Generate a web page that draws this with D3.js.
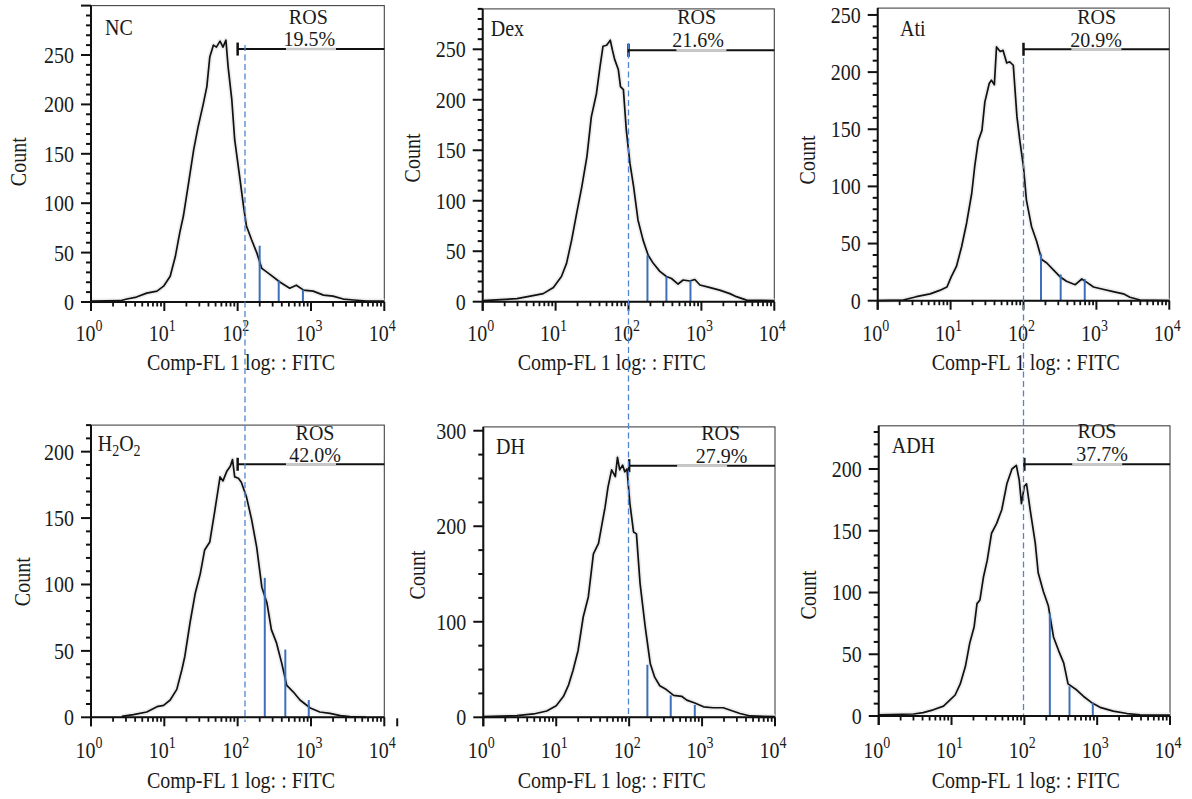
<!DOCTYPE html>
<html><head><meta charset="utf-8">
<script src="https://cdn.jsdelivr.net/npm/d3@7"></script>
<style>
body{margin:0;background:#fff}
svg{display:block}
text{font-family:"Liberation Serif","Times New Roman",serif;fill:#1a1a1a}
</style>
</head><body>
<svg id="chart" width="1192" height="799"></svg>
<script>
// ---------- DATA (log10 of Comp-FL1 intensity, and counts) ----------
const groupNames = ["NC", "Dex", "Ati", "H2O2", "DH", "ADH"];
const rosPercent = ["19.5%", "21.6%", "20.9%", "42.0%", "27.9%", "37.7%"];
const xTickExponents = [0, 1, 2, 3, 4];

const ncLog   = [0,0.4,0.49,0.62,0.76,0.9,0.99,1.08,1.15,1.21,1.26,1.33,1.4,1.46,1.53,1.58,1.62,1.67,1.71,1.76,1.8,1.84,1.87,1.92,1.96,2.02,2.08,2.12,2.19,2.26,2.33,2.44,2.58,2.71,2.8,2.9,3.03,3.17,3.3,3.44,3.58,3.76,4.0];
const ncCount = [1,1.3,3,5,9,11,16,26,46,70,87,120,154,177,200,218,248,260,258,264,258,265,238,205,164,131,97,77,63,50,34,28,20,14,17,12,11,7,6,3,2,1,1];

const dexLog   = [0,0.47,0.69,0.83,0.97,1.08,1.15,1.22,1.29,1.36,1.43,1.49,1.56,1.61,1.65,1.7,1.75,1.78,1.81,1.86,1.89,1.93,1.97,2.02,2.07,2.13,2.2,2.27,2.34,2.43,2.52,2.59,2.68,2.75,2.84,2.91,2.98,3.12,3.25,3.39,3.48,3.62,4.0];
const dexCount = [1,3,6,8,14,25,38,61,88,114,144,183,206,233,253,254,259,249,240,230,213,210,170,137,114,81,61,46,38,30,25,23,17.5,21.5,20.5,22,16.5,14,11.5,8,5,1.6,1];

const atiLog   = [0,0.35,0.53,0.72,0.85,0.95,1.01,1.08,1.15,1.22,1.29,1.33,1.38,1.43,1.47,1.53,1.56,1.6,1.63,1.68,1.72,1.77,1.81,1.86,1.91,1.95,2.0,2.04,2.11,2.18,2.25,2.32,2.41,2.5,2.59,2.71,2.8,2.87,2.96,3.09,3.23,3.37,3.46,3.6,4.0];
const atiCount = [0,0.6,3.5,6,9,12,21,30,47,68,94,117,140,149,174,190,193,189,222,218,219,208,209,206,161,140,117,88,65,52,36,33,27,21,17,14,19,16,12,10,8,6,3,0.6,0];

const h2o2Log   = [0.42,0.58,0.76,0.9,0.99,1.08,1.17,1.24,1.28,1.35,1.42,1.49,1.55,1.62,1.69,1.76,1.8,1.85,1.9,1.93,1.96,2.01,2.05,2.12,2.19,2.26,2.33,2.4,2.46,2.53,2.6,2.67,2.76,2.85,2.99,3.12,3.26,3.4,3.53,3.75];
const h2o2Count = [0.7,2,4,8,9,13,21,36,46,71,93,108,126,132,156,181,178,185,189,194,181,180,177,166,149,128,98,86,66,56,41,24,19,13,7,4,3,1.3,0.5,0];

const dhLog   = [0,0.46,0.69,0.87,1.0,1.1,1.17,1.23,1.3,1.37,1.44,1.51,1.58,1.62,1.67,1.71,1.76,1.81,1.84,1.87,1.91,1.94,1.97,2.01,2.06,2.1,2.15,2.22,2.29,2.35,2.42,2.51,2.61,2.72,2.79,2.9,3.02,3.15,3.29,3.38,3.52,3.66,4.0];
const dhCount = [0.7,1.7,3.5,6.6,12,22,34,49,70,105,126,171,182,199,220,241,259,252,272,259,264,257,260,224,194,192,140,95,56,42,33,29,23,22,18,15,11,10,10,7.7,4,1.4,0.7];

const adhLog   = [0,0.48,0.61,0.75,0.89,0.98,1.05,1.12,1.19,1.25,1.31,1.35,1.39,1.44,1.49,1.55,1.62,1.69,1.76,1.83,1.89,1.93,1.96,2.0,2.03,2.08,2.15,2.19,2.26,2.33,2.4,2.47,2.54,2.6,2.72,2.81,2.92,3.04,3.22,3.41,3.59,4.0];
const adhCount = [1,1.6,2.7,5,8,13,17,26,40,59,72,91,94,113,126,148,156,167,188,200,203,191,172,186,188,167,140,116,101,89,64,53,43,26,21,16,11,7,4,2,1,0.8];

// blue marker lines (log10 position, count height)
const blueLog   = [[2.30,2.56,2.89],[2.26,2.52,2.85],[2.24,2.51,2.84],[2.37,2.65,2.97],[2.25,2.57,2.90],[2.35,2.62,2.94]];
const blueCount = [[57,21.6,12.5],[46,25,21],[41,23,19],[105,51,13],[55,23,13],[83,24,11]];

// ROS gate: start (log10) and height (count)
const gateStartLog = [2.0, 2.0, 2.0, 2.0, 2.0, 2.0];
const gateCount    = [256, 249, 220, 190.5, 263.4, 203.8];

// y axes
const yMax    = [300, 290, 256, 220, 304, 235];
const yMajor  = [50, 50, 50, 50, 100, 50];
const yMinor  = [10, 10, 10, 10, 25, 10];
const yLabelMax = [250, 250, 250, 200, 300, 200];

// dashed reference line per column (log10)
const dashLog = [2.10, 2.0, 2.0];

// ---------- LAYOUT ----------
const layout = [
  {left:91,   right:384.3, top:5.6,   bottom:302,   countX:18.5,  countY:161.7, labelX:105,   labelY:35,  rosX:308.3, pctX:309.3, pctY:46,  titleX:241,   tickY:341, titleY:370},
  {left:482.7,right:774.3, top:8.9,   bottom:301.7, countX:411.7, countY:158,   labelX:490.7, labelY:36,  rosX:696.7, pctX:698,   pctY:46.5,titleX:611.7, tickY:341, titleY:370},
  {left:877.7,right:1169.3,top:8.1,   bottom:300.7, countX:806.7, countY:160,   labelX:900,   labelY:36,  rosX:1096.7,pctX:1096,  pctY:46.5,titleX:1025.8,tickY:341, titleY:370},
  {left:91,   right:384.3, top:425.1, bottom:717.3, countX:21.7,  countY:581.7, labelX:97.7,  labelY:451, rosX:315,   pctX:315,   pctY:462, titleX:241,   tickY:758, titleY:788},
  {left:483.3,right:775,   top:426.9, bottom:717.3, countX:416.7, countY:575,   labelX:496,   labelY:454, rosX:720.7, pctX:721.7, pctY:462.5,titleX:611.7, tickY:758, titleY:788},
  {left:878.7,right:1170,  top:425.8, bottom:716,   countX:808.3, countY:595,   labelX:891.7, labelY:453, rosX:1097,  pctX:1102,  pctY:460.5,titleX:1025.8,tickY:758, titleY:788}
];
const dashY = [[45,722],[43,718],[58,715]];

const seriesLog = [ncLog, dexLog, atiLog, h2o2Log, dhLog, adhLog];
const seriesCount = [ncCount, dexCount, atiCount, h2o2Count, dhCount, adhCount];

const FS = 20;
const VS = 1.13; // glyphs in the reference are taller than Times
const svg = d3.select("#chart");
const scales = [];

function addText(g, x, y, anchor, size, rot, vs) {
  const s = vs === undefined ? VS : vs;
  return g.append("text")
    .attr("transform", `translate(${x},${y})` + (rot ? ` rotate(${rot})` : "") + ` scale(1,${s})`)
    .attr("text-anchor", anchor).attr("font-size", size);
}

groupNames.forEach((name, i) => {
  const L = layout[i];
  const x = d3.scaleLog().domain([1, 1e4]).range([L.left, L.right]);
  const y = d3.scaleLinear().domain([0, yMax[i]]).range([L.bottom, L.top]);
  scales.push(x);
  const g = svg.append("g");

  // frame
  g.append("rect").attr("x", L.left).attr("y", L.top)
    .attr("width", L.right - L.left).attr("height", L.bottom - L.top)
    .attr("fill", "none").attr("stroke", "#444").attr("stroke-width", 1.1);

  const pts = seriesLog[i].map((v, k) => [Math.pow(10, v), seriesCount[i][k]]);
  const line = d3.line().x(d => x(d[0])).y(d => y(d[1]));

  // halo
  g.append("path").attr("d", line(pts)).attr("fill", "none")
    .attr("stroke", "#eeeeee").attr("stroke-width", 5).attr("stroke-linejoin", "round");
  // curve
  g.append("path").attr("d", line(pts)).attr("fill", "none")
    .attr("stroke", "#111").attr("stroke-width", 1.7).attr("stroke-linejoin", "round");

  // blue markers
  blueLog[i].forEach((v, k) => {
    g.append("line").attr("x1", x(Math.pow(10, v))).attr("x2", x(Math.pow(10, v)))
      .attr("y1", y(0)).attr("y2", y(blueCount[i][k]))
      .attr("stroke", "#3c70b8").attr("stroke-width", 2);
  });

  // y axis
  g.append("line").attr("x1", L.left).attr("x2", L.left).attr("y1", L.top).attr("y2", L.bottom + 9)
    .attr("stroke", "#111").attr("stroke-width", 2);
  const yt = d3.range(0, yMax[i] + 0.001, yMinor[i]);
  yt.forEach(v => {
    const major = Math.abs(v / yMajor[i] - Math.round(v / yMajor[i])) < 1e-6;
    g.append("line").attr("x1", L.left).attr("x2", L.left - (major ? 10 : 5))
      .attr("y1", y(v)).attr("y2", y(v)).attr("stroke", "#111").attr("stroke-width", 2);
    if (major && v <= yLabelMax[i]) {
      addText(g, L.left - 17, y(v), "end", FS).attr("dy", "0.35em").text(v);
    }
  });

  // x axis
  g.append("line").attr("x1", L.left).attr("x2", L.right).attr("y1", L.bottom).attr("y2", L.bottom)
    .attr("stroke", "#111").attr("stroke-width", 2);
  xTickExponents.forEach(e => {
    const xv = x(Math.pow(10, e));
    g.append("line").attr("x1", xv).attr("x2", xv).attr("y1", L.bottom).attr("y2", L.bottom + 9)
      .attr("stroke", "#111").attr("stroke-width", 2);
    if (e < 4) {
      for (let k = 2; k <= 9; k++) {
        const xm = x(k * Math.pow(10, e));
        g.append("line").attr("x1", xm).attr("x2", xm).attr("y1", L.bottom).attr("y2", L.bottom + 4.5)
          .attr("stroke", "#111").attr("stroke-width", 1.8);
      }
    }
    const t = addText(g, xv - 2, L.tickY, "middle", FS);
    t.append("tspan").text("10");
    t.append("tspan").attr("font-size", 14).attr("dy", -9).text(e);
  });

  // axis titles
  addText(g, L.titleX, L.titleY, "middle", FS).text("Comp-FL 1 log: : FITC");
  addText(g, L.countX, L.countY, "middle", FS, -90).attr("dy", "0.35em").text("Count");

  // group label
  const lab = addText(g, L.labelX, L.labelY, "start", FS);
  if (name === "H2O2") {
    lab.append("tspan").text("H");
    lab.append("tspan").attr("font-size", 14).attr("dy", 4).text("2");
    lab.append("tspan").attr("dy", -4).text("O");
    lab.append("tspan").attr("font-size", 14).attr("dy", 4).text("2");
  } else {
    lab.text(name);
  }

  // gate
  const gx0 = x(Math.pow(10, gateStartLog[i]));
  const gy = y(gateCount[i]);
  const gcx = (gx0 + L.right) / 2;
  g.append("line").attr("x1", gx0).attr("x2", L.right).attr("y1", gy).attr("y2", gy)
    .attr("stroke", "#111").attr("stroke-width", 2);
  g.append("line").attr("x1", gcx - 25).attr("x2", gcx + 25).attr("y1", gy).attr("y2", gy)
    .attr("stroke", "#c8c8c8").attr("stroke-width", 2.5);
  g.append("line").attr("x1", gx0).attr("x2", gx0).attr("y1", gy - 6.5).attr("y2", gy + 6.5)
    .attr("stroke", "#111").attr("stroke-width", 2.5);
  addText(g, L.rosX, L.pctY - 22.5, "middle", FS, 0, 1).text("ROS");
  addText(g, L.pctX, L.pctY, "middle", FS, 0, 1).text(rosPercent[i]);
});

// extra stray tick beyond H2O2 axis end
{
  const x = scales[3];
  svg.append("line").attr("x1", x(1.5e4)).attr("x2", x(1.5e4))
    .attr("y1", layout[3].bottom + 1).attr("y2", layout[3].bottom + 9)
    .attr("stroke", "#111").attr("stroke-width", 2);
}

// dashed reference lines spanning both rows
dashLog.forEach((v, c) => {
  const x = scales[c];
  svg.append("line").attr("x1", x(Math.pow(10, v))).attr("x2", x(Math.pow(10, v)))
    .attr("y1", dashY[c][0]).attr("y2", dashY[c][1])
    .attr("stroke", "#4f86cc").attr("stroke-width", 1.3).attr("stroke-dasharray", "6,3.5");
});
</script>
</body></html>
